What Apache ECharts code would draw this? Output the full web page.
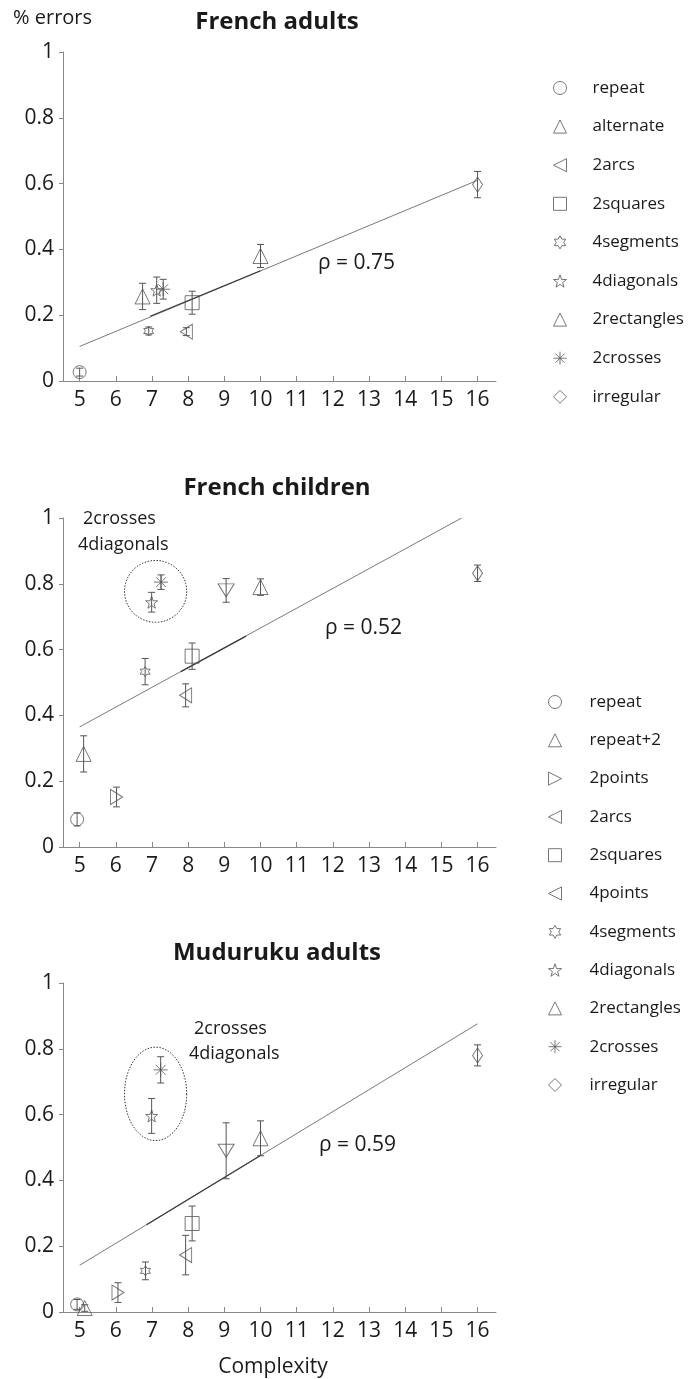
<!DOCTYPE html>
<html>
<head>
<meta charset="utf-8">
<script src="https://cdn.jsdelivr.net/npm/echarts@6/dist/echarts.min.js"></script>
<style>
  html, body { margin: 0; padding: 0; background: #fff; }
  #chart { width: 694px; height: 1379px; }
</style>
</head>
<body>
<div id="chart"></div>
<script>
// ---- data ----
const xTicks = [5, 6, 7, 8, 9, 10, 11, 12, 13, 14, 15, 16]

const adultNames = ['repeat', 'alternate', '2arcs', '2squares', '4segments', '4diagonals', '2rectangles', '2crosses', 'irregular']
const adultX = [5.0, 6.74, 7.95, 8.11, 6.91, 7.13, 10.0, 7.31, 16.0]
const adultY = [0.027, 0.257, 0.150, 0.238, 0.152, 0.276, 0.380, 0.279, 0.597]
const adultErr = [0.012, 0.040, 0.012, 0.035, 0.012, 0.040, 0.035, 0.030, 0.040]
const adultLine = [[5, 0.105], [16, 0.61]]
const adultDark = [[6.95, 0.197], [10, 0.335]]

const childNames = ['repeat', 'repeat+2', '2points', '2arcs', '2squares', '4points', '4segments', '4diagonals', '2rectangles', '2crosses', 'irregular']
const childX = [4.93, 5.11, 6.02, 7.93, 8.11, 9.05, 6.81, 6.99, 10.0, 7.25, 16.0]
const childY = [0.084, 0.283, 0.152, 0.461, 0.580, 0.780, 0.533, 0.744, 0.790, 0.805, 0.832]
const childErr = [0.020, 0.055, 0.030, 0.035, 0.040, 0.036, 0.040, 0.030, 0.025, 0.022, 0.025]
const childLine = [[5, 0.365], [15.56, 1.0]]
const childDark = [[7.8, 0.533], [9.6, 0.641]]

const mudNames = childNames
const mudX = [4.93, 5.14, 6.06, 7.93, 8.11, 9.05, 6.82, 6.99, 10.0, 7.24, 16.0]
const mudY = [0.023, 0.012, 0.059, 0.173, 0.269, 0.490, 0.125, 0.596, 0.528, 0.736, 0.780]
const mudErr = [0.015, 0.010, 0.030, 0.060, 0.053, 0.085, 0.027, 0.053, 0.053, 0.040, 0.032]
const mudLine = [[5, 0.142], [16, 0.876]]
const mudDark = [[6.85, 0.265], [10, 0.476]]

// dotted rings around 2crosses / 4diagonals: [cx, cy, rx, ry] in data units
const childRing = [7.1, 0.777, 0.86, 0.094]
const mudRing = [7.1, 0.663, 0.86, 0.142]

const rhoLabels = ['ρ = 0.75', 'ρ = 0.52', 'ρ = 0.59']
const titles = ['French adults', 'French children', 'Muduruku adults']

// ---- symbols ----
const TRI_UP = 'path://M5,0L10,10L0,10Z'
const TRI_DOWN = 'path://M0,0L10,0L5,10Z'
const TRI_LEFT = 'path://M10,0L10,10L0,5Z'
const TRI_RIGHT = 'path://M0,0L0,10L10,5Z'
const HEXAGRAM = 'path://M5,0L6.44,2.5L9.33,2.5L7.89,5L9.33,7.5L6.44,7.5L5,10L3.56,7.5L0.67,7.5L2.11,5L0.67,2.5L3.56,2.5Z'
const STAR = 'path://M5,0L6.18,3.38L9.76,3.45L6.9,5.62L7.94,9.05L5,7L2.06,9.05L3.1,5.62L0.24,3.45L3.82,3.38Z'
const ASTERISK = 'path://M5,0L5,10M0,5L10,5M1.5,1.5L8.5,8.5M1.5,8.5L8.5,1.5'

const symbolOf = {
  'repeat': 'circle', 'alternate': TRI_UP, 'repeat+2': TRI_UP, '2rectangles': TRI_UP,
  '2arcs': TRI_LEFT, '2points': TRI_RIGHT, '4points': TRI_DOWN, '2squares': 'rect',
  '4segments': HEXAGRAM, '4diagonals': STAR, '2crosses': ASTERISK, 'irregular': 'diamond'
}
const sizeOf = {
  'repeat': 13, 'alternate': 15, 'repeat+2': 15, '2rectangles': 15, '2arcs': [12, 15],
  '2points': [12, 15], '4points': [16, 13], '2squares': 14, '4segments': 10,
  '4diagonals': 12, '2crosses': 14, 'irregular': [10, 15]
}
const legendIconOf = Object.assign({}, symbolOf, { '4points': TRI_LEFT })

const ink = '#555'
const textColor = '#1a1a1a'
const font = '"Open Sans", "Noto Sans", sans-serif'

const gridTops = [52, 518, 983]
const gridH = 329

let myChart = echarts.init(document.getElementById('chart'))

let grids = [], xAxes = [], yAxes = [], series = []

gridTops.forEach((top, i) => {
  grids.push({ left: 63, top: top, width: 433, height: gridH })
  xAxes.push({
    type: 'value', gridIndex: i, min: 4.54, max: 16.51,
    axisLine: { show: true, lineStyle: { color: '#888', width: 1 } },
    axisTick: { show: true, inside: true, length: 5, customValues: xTicks, lineStyle: { color: '#888' } },
    axisLabel: { customValues: xTicks, fontSize: 21, color: textColor, fontFamily: font, margin: 9 },
    splitLine: { show: false }
  })
  yAxes.push({
    type: 'value', gridIndex: i, min: 0, max: 1, interval: 0.2,
    axisLine: { show: true, lineStyle: { color: '#888', width: 1 } },
    axisTick: { show: true, inside: false, length: 4, lineStyle: { color: '#888' } },
    axisLabel: { fontSize: 21, color: textColor, fontFamily: font, margin: 9 },
    splitLine: { show: false }
  })
})

function errorBars(i, xs, ys, errs) {
  return {
    type: 'custom', xAxisIndex: i, yAxisIndex: i, silent: true, z: 2,
    data: xs.map((x, k) => [x, ys[k] - errs[k], ys[k] + errs[k]]),
    encode: { x: 0, y: [1, 2] },
    renderItem: function (params, api) {
      let lo = api.coord([api.value(0), api.value(1)])
      let hi = api.coord([api.value(0), api.value(2)])
      let c = 3.5
      let st = { stroke: ink, lineWidth: 1, fill: null }
      return {
        type: 'group',
        children: [
          { type: 'line', shape: { x1: lo[0], y1: lo[1], x2: hi[0], y2: hi[1] }, style: st },
          { type: 'line', shape: { x1: lo[0] - c, y1: lo[1], x2: lo[0] + c, y2: lo[1] }, style: st },
          { type: 'line', shape: { x1: hi[0] - c, y1: hi[1], x2: hi[0] + c, y2: hi[1] }, style: st }
        ]
      }
    }
  }
}

function ring(i, r) {
  return {
    type: 'custom', xAxisIndex: i, yAxisIndex: i, silent: true, z: 1,
    data: [r],
    renderItem: function (params, api) {
      let c = api.coord([api.value(0), api.value(1)])
      let s = api.size([api.value(2), api.value(3)])
      let pts = []
      for (let a = 0; a < 72; a++) {
        let t = a / 72 * Math.PI * 2
        pts.push([c[0] + s[0] * Math.cos(t), c[1] + s[1] * Math.sin(t)])
      }
      return {
        type: 'polygon', shape: { points: pts },
        style: { stroke: '#333', lineWidth: 1, fill: null, lineDash: [1.5, 1.5] }
      }
    }
  }
}

function addPanel(i, names, xs, ys, errs, line, dark) {
  series.push({
    type: 'line', xAxisIndex: i, yAxisIndex: i, data: line, showSymbol: false, silent: true,
    lineStyle: { color: '#7a7a7a', width: 1 }, z: 1
  })
  series.push({
    type: 'line', xAxisIndex: i, yAxisIndex: i, data: dark, showSymbol: false, silent: true,
    lineStyle: { color: '#3a3a3a', width: 1.2 }, z: 1
  })
  series.push(errorBars(i, xs, ys, errs))
  names.forEach((n, k) => {
    series.push({
      name: n, type: 'scatter', xAxisIndex: i, yAxisIndex: i,
      symbol: symbolOf[n], symbolSize: sizeOf[n],
      data: [[xs[k], ys[k]]],
      itemStyle: { color: 'rgba(0,0,0,0)', borderColor: ink, borderWidth: 1 },
      z: 3
    })
  })
}

addPanel(0, adultNames, adultX, adultY, adultErr, adultLine, adultDark)
addPanel(1, childNames, childX, childY, childErr, childLine, childDark)
addPanel(2, mudNames, mudX, mudY, mudErr, mudLine, mudDark)
series.push(ring(1, childRing))
series.push(ring(2, mudRing))

function makeLegend(names, left, top, gap, pad) {
  return {
    orient: 'vertical', left: left, top: top, padding: 0, itemGap: gap,
    itemWidth: 13, itemHeight: 13, selectedMode: false,
    itemStyle: { color: 'rgba(0,0,0,0)', borderColor: ink, borderWidth: 1 },
    textStyle: { fontSize: 17, color: textColor, fontFamily: font, lineHeight: 20, padding: [0, 0, 0, pad] },
    data: names.map(n => ({ name: n, icon: legendIconOf[n] }))
  }
}

function txt(x, y, text, size, opts) {
  return {
    type: 'text', x: x, y: y, silent: true,
    style: {
      text: text, fill: textColor, font: (opts && opts.bold ? 'bold ' : '') + size + 'px ' + font,
      textAlign: (opts && opts.align) || 'left', textVerticalAlign: 'middle'
    }
  }
}

let graphics = [
  txt(277, 22, titles[0], 24, { bold: true, align: 'center' }),
  txt(277, 488, titles[1], 24, { bold: true, align: 'center' }),
  txt(277, 953, titles[2], 24, { bold: true, align: 'center' }),
  txt(13, 18, '% errors', 20),
  txt(273, 1367, 'Complexity', 21, { align: 'center' }),
  txt(318, 263, rhoLabels[0], 21),
  txt(325, 628, rhoLabels[1], 21),
  txt(319, 1145, rhoLabels[2], 21),
  txt(83, 519, '2crosses', 18),
  txt(78, 545, '4diagonals', 18),
  txt(194, 1029, '2crosses', 18),
  txt(189, 1054, '4diagonals', 18)
]

let option = {
  backgroundColor: '#fff',
  animation: false,
  grid: grids,
  xAxis: xAxes,
  yAxis: yAxes,
  legend: [
    makeLegend(adultNames, 553, 78, 18.6, 21),
    makeLegend(childNames, 548, 692, 18.3, 23)
  ],
  graphic: graphics,
  series: series
}
myChart.setOption(option)
</script>
</body>
</html>
